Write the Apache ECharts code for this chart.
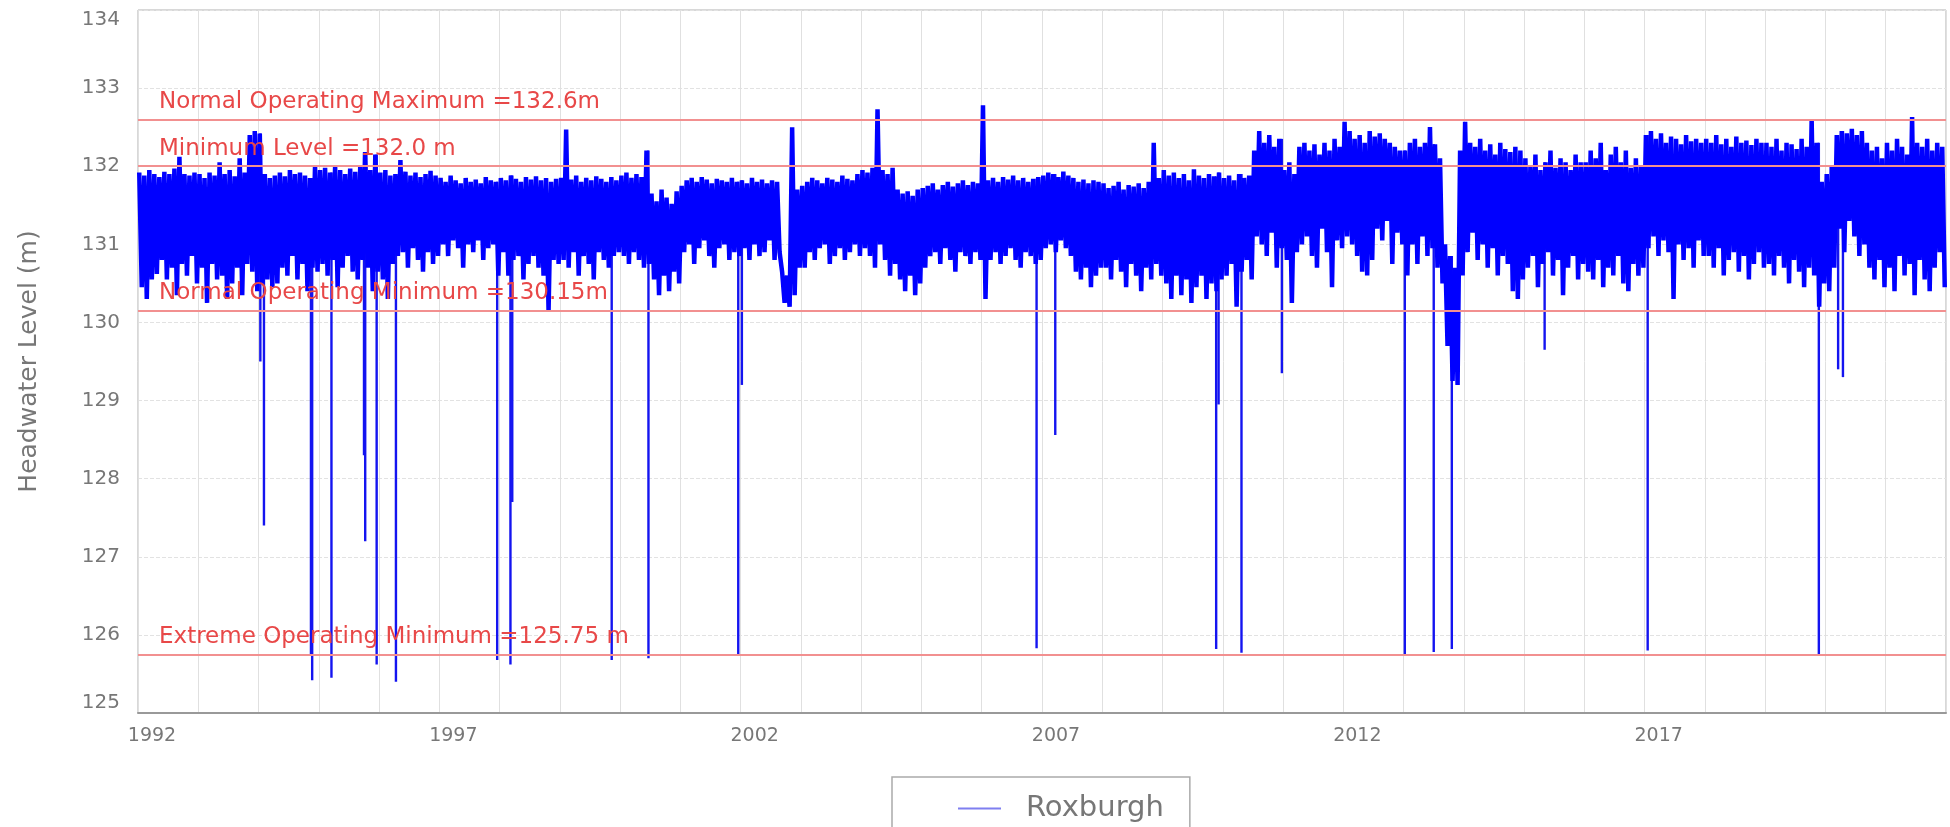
<!DOCTYPE html>
<html>
<head>
<meta charset="utf-8">
<title>Roxburgh headwater level</title>
<script src="https://cdn.jsdelivr.net/npm/echarts@6.0.0/dist/echarts.min.js"></script>
<style>
html, body { margin: 0; padding: 0; background: #fff; }
#main { width: 1950px; height: 827px; }
</style>
</head>
<body>
<div id="main"></div>
<script>
var firstYear = 1992;
var lastYear = 2022;
var yearStep = 5;
var seriesName = 'Roxburgh';

// monthly high readings (m), one row per year, Jan..Dec
var monthHigh = [
  [131.92, 131.88, 131.95, 131.90, 131.86, 131.93, 131.90, 131.97, 132.12, 131.90, 131.88, 131.92],
  [131.90, 131.85, 131.92, 131.88, 132.05, 131.90, 131.95, 131.87, 132.10, 131.92, 132.40, 132.45],
  [132.42, 131.90, 131.85, 131.88, 131.92, 131.87, 131.95, 131.90, 131.92, 131.88, 131.85, 132.00],
  [131.95, 131.98, 131.92, 132.00, 131.95, 131.90, 131.97, 131.93, 132.00, 132.18, 131.95, 132.15],
  [131.92, 131.95, 131.88, 131.90, 132.08, 131.93, 131.88, 131.92, 131.86, 131.90, 131.94, 131.88],
  [131.85, 131.80, 131.88, 131.82, 131.78, 131.85, 131.80, 131.83, 131.78, 131.86, 131.82, 131.80],
  [131.85, 131.82, 131.88, 131.84, 131.80, 131.86, 131.83, 131.87, 131.82, 131.85, 131.80, 131.84],
  [131.85, 132.47, 131.83, 131.88, 131.80, 131.85, 131.82, 131.87, 131.84, 131.80, 131.86, 131.82],
  [131.88, 131.92, 131.85, 131.90, 131.86, 132.20, 131.65, 131.55, 131.70, 131.60, 131.52, 131.68],
  [131.75, 131.82, 131.85, 131.80, 131.86, 131.83, 131.78, 131.84, 131.82, 131.80, 131.85, 131.80],
  [131.82, 131.78, 131.85, 131.80, 131.83, 131.78, 131.82, 131.80, 130.65, 130.60, 132.50, 131.70],
  [131.75, 131.80, 131.85, 131.82, 131.78, 131.85, 131.83, 131.80, 131.88, 131.84, 131.82, 131.90],
  [131.95, 131.92, 131.98, 132.73, 131.95, 131.90, 131.98, 131.70, 131.65, 131.68, 131.62, 131.70],
  [131.72, 131.75, 131.78, 131.70, 131.76, 131.80, 131.74, 131.78, 131.82, 131.76, 131.80, 131.78],
  [132.78, 131.82, 131.85, 131.80, 131.86, 131.83, 131.88, 131.82, 131.85, 131.80, 131.84, 131.86],
  [131.88, 131.92, 131.90, 131.86, 131.93, 131.88, 131.85, 131.80, 131.83, 131.78, 131.82, 131.80],
  [131.78, 131.72, 131.75, 131.80, 131.70, 131.76, 131.74, 131.78, 131.72, 131.80, 132.30, 131.85],
  [131.95, 131.88, 131.92, 131.85, 131.90, 131.82, 131.96, 131.88, 131.85, 131.90, 131.87, 131.92],
  [131.85, 131.88, 131.82, 131.90, 131.85, 131.88, 132.20, 132.45, 132.30, 132.40, 132.25, 132.35],
  [131.95, 132.05, 131.90, 132.25, 132.30, 132.20, 132.28, 132.15, 132.30, 132.20, 132.35, 132.25],
  [132.57, 132.45, 132.35, 132.40, 132.30, 132.45, 132.38, 132.42, 132.35, 132.30, 132.25, 132.20],
  [132.20, 132.30, 132.35, 132.25, 132.30, 132.50, 132.28, 132.10, 131.00, 130.85, 130.70, 132.20],
  [132.57, 132.30, 132.25, 132.35, 132.20, 132.28, 132.15, 132.30, 132.22, 132.18, 132.25, 132.20],
  [132.10, 132.00, 132.15, 131.95, 132.05, 132.20, 131.98, 132.10, 132.05, 131.95, 132.15, 132.05],
  [132.05, 132.20, 132.10, 132.30, 131.95, 132.15, 132.25, 132.05, 132.20, 131.98, 132.10, 132.00],
  [132.40, 132.45, 132.35, 132.42, 132.30, 132.38, 132.35, 132.28, 132.40, 132.32, 132.35, 132.30],
  [132.35, 132.30, 132.40, 132.28, 132.35, 132.25, 132.38, 132.30, 132.33, 132.27, 132.35, 132.30],
  [132.30, 132.25, 132.35, 132.20, 132.30, 132.28, 132.22, 132.35, 132.25, 132.60, 132.30, 131.80],
  [131.90, 132.00, 132.40, 132.45, 132.42, 132.48, 132.40, 132.45, 132.30, 132.20, 132.25, 132.10],
  [132.30, 132.20, 132.35, 132.25, 132.15, 132.63, 132.30, 132.25, 132.35, 132.20, 132.30, 132.25]
];

// monthly low readings (m), one row per year, Jan..Dec
var monthLow = [
  [130.45, 130.30, 130.55, 130.62, 130.80, 130.55, 130.70, 130.35, 130.75, 130.60, 130.85, 130.50],
  [130.70, 130.25, 130.75, 130.55, 130.60, 130.30, 130.50, 130.70, 130.35, 130.75, 130.65, 130.40],
  [130.50, 130.55, 130.45, 130.50, 130.70, 130.60, 130.85, 130.55, 130.75, 130.40, 130.70, 130.65],
  [130.75, 130.60, 130.80, 130.45, 130.70, 130.85, 130.65, 130.55, 130.80, 130.70, 130.40, 130.65],
  [130.55, 130.30, 130.75, 130.85, 130.90, 130.70, 130.95, 130.80, 130.65, 130.90, 130.75, 130.85],
  [131.00, 130.85, 131.05, 130.95, 130.70, 131.00, 130.90, 131.05, 130.80, 130.95, 131.00, 130.60],
  [130.90, 130.60, 130.80, 130.85, 130.55, 130.75, 130.85, 130.70, 130.60, 130.15, 130.80, 130.75],
  [130.80, 130.70, 130.90, 130.60, 130.85, 130.75, 130.55, 130.90, 130.80, 130.70, 130.85, 130.90],
  [130.85, 130.75, 130.90, 130.80, 130.70, 130.75, 130.55, 130.35, 130.60, 130.40, 130.65, 130.50],
  [130.90, 131.00, 130.75, 130.95, 131.05, 130.85, 130.70, 130.95, 131.00, 130.80, 130.90, 130.85],
  [130.95, 130.80, 131.00, 130.85, 130.90, 131.05, 130.80, 130.90, 130.25, 130.20, 130.35, 130.70],
  [130.70, 130.90, 130.80, 130.95, 131.00, 130.75, 130.85, 130.95, 130.80, 130.90, 131.00, 130.85],
  [130.95, 130.85, 130.70, 131.00, 130.80, 130.60, 130.75, 130.55, 130.40, 130.60, 130.35, 130.50],
  [130.70, 130.85, 130.90, 130.75, 130.95, 130.80, 130.65, 130.90, 130.85, 130.75, 130.90, 130.80],
  [130.30, 130.80, 130.90, 130.75, 130.85, 130.95, 130.80, 130.70, 130.90, 130.85, 130.75, 130.80],
  [130.95, 131.00, 130.90, 131.05, 130.95, 130.85, 130.65, 130.55, 130.70, 130.45, 130.60, 130.70],
  [130.70, 130.55, 130.80, 130.65, 130.45, 130.75, 130.60, 130.40, 130.70, 130.55, 130.75, 130.60],
  [130.50, 130.30, 130.60, 130.35, 130.55, 130.25, 130.45, 130.60, 130.30, 130.50, 130.40, 130.55],
  [130.60, 130.75, 130.20, 130.65, 130.80, 130.55, 131.10, 131.00, 130.85, 131.15, 130.70, 130.95],
  [130.80, 130.25, 130.90, 131.00, 131.10, 130.85, 130.70, 131.20, 130.90, 130.45, 131.05, 130.95],
  [131.10, 131.00, 130.85, 130.65, 130.60, 130.80, 131.20, 131.05, 131.30, 130.75, 131.15, 131.00],
  [130.60, 131.00, 130.75, 131.10, 130.85, 130.95, 130.70, 130.50, 129.70, 129.25, 129.20, 130.60],
  [130.90, 131.15, 130.80, 131.00, 130.70, 130.95, 130.60, 130.85, 130.75, 130.40, 130.30, 130.55],
  [130.70, 130.85, 130.45, 130.75, 130.90, 130.60, 130.80, 130.35, 130.70, 130.85, 130.55, 130.75],
  [130.65, 130.55, 130.80, 130.45, 130.70, 130.60, 130.85, 130.50, 130.40, 130.75, 130.60, 130.70],
  [130.95, 131.10, 130.85, 131.05, 130.90, 130.30, 131.00, 130.80, 130.95, 130.70, 131.05, 130.85],
  [130.85, 130.70, 130.95, 130.60, 130.80, 130.90, 130.65, 130.85, 130.55, 130.75, 130.90, 130.70],
  [130.75, 130.60, 130.85, 130.70, 130.50, 130.80, 130.65, 130.45, 130.70, 130.60, 130.20, 130.50],
  [130.40, 130.70, 131.20, 130.90, 131.30, 131.10, 130.85, 131.00, 130.70, 130.55, 130.80, 130.45],
  [130.70, 130.40, 130.85, 130.60, 130.75, 130.35, 130.80, 130.55, 130.40, 130.70, 130.90, 130.45]
];

// short drawdown events: time (decimal year) and lowest level (m)
var dipYears  = [1994.03, 1994.09, 1994.87, 1994.89, 1995.21, 1995.75, 1995.77, 1995.96, 1996.28, 1997.96,
                 1998.18, 1998.21, 1999.86, 2000.47, 2001.96, 2002.02, 2006.91, 2007.22, 2009.89, 2009.93,
                 2010.31, 2010.98, 2013.02, 2013.50, 2013.80, 2015.34, 2017.05, 2019.89, 2020.21, 2020.29];
var dipLevels = [129.50, 127.40, 125.75, 125.42, 125.45, 128.30, 127.20, 125.62, 125.40, 125.68,
                 125.62, 127.70, 125.68, 125.70, 125.75, 129.20, 125.83, 128.56, 125.82, 128.95,
                 125.77, 129.35, 125.75, 125.78, 125.82, 129.65, 125.80, 125.75, 129.40, 129.30];

// operating limits
var refLevels = [132.6, 132.0, 130.15, 125.75];
var refLabels = ['Normal Operating Maximum =132.6m', 'Minimum Level =132.0 m',
                 'Normal Operating Minimum =130.15m', 'Extreme Operating Minimum =125.75 m'];

var levelMin = 125, levelMax = 134;

// zigzag through the monthly highs and lows
var points = [];
for (var i = 0; i < monthHigh.length; i++) {
  for (var m = 0; m < 12; m++) {
    var t = firstYear + i + m / 12;
    points.push([t + 0.25 / 12, monthHigh[i][m]]);
    points.push([t + 0.75 / 12, monthLow[i][m]]);
  }
}

// each dip hangs from that month's high
var dips = dipYears.map(function (t, k) {
  var yi = Math.floor(t) - firstYear;
  var mi = Math.min(11, Math.floor((t - Math.floor(t)) * 12));
  return [t, dipLevels[k], monthHigh[yi][mi]];
});

var refData = refLevels.map(function (v, k) {
  return { yAxis: v, label: { formatter: refLabels[k] } };
});

var myChart = echarts.init(document.getElementById('main'));
var option = {
  animation: false,
  textStyle: { fontFamily: 'DejaVu Sans' },
  grid: {
    left: 138, right: 4, top: 10, bottom: 114,
    containLabel: false, outerBoundsMode: 'none',
    show: true, borderColor: '#b0b0b0', borderWidth: 1
  },
  legend: {
    data: [seriesName],
    left: 892, top: 777,
    padding: [17, 26, 17, 66],
    borderColor: '#aaaaaa', borderWidth: 1.5,
    icon: 'rect',
    itemWidth: 43, itemHeight: 2,
    itemStyle: { color: '#7f7ff0' },
    textStyle: { fontSize: 29, color: '#777777', padding: [0, 0, 0, 20] }
  },
  xAxis: {
    type: 'value',
    min: firstYear, max: lastYear, interval: yearStep,
    axisLine: { show: true, lineStyle: { color: '#999999', width: 2 } },
    axisTick: { show: false },
    axisLabel: {
      fontSize: 19, color: '#777777', margin: 14,
      padding: [0, 0, 0, 28],
      showMaxLabel: false,
      formatter: function (v) { return String(v); }
    },
    splitLine: { show: true, lineStyle: { color: '#e0e0e0', width: 1 } },
    minorTick: { show: false, splitNumber: 5 },
    minorSplitLine: { show: true, lineStyle: { color: '#e0e0e0', width: 1 } }
  },
  yAxis: {
    type: 'value',
    min: levelMin, max: levelMax, interval: 1,
    name: 'Headwater Level (m)',
    nameLocation: 'middle', nameGap: 96,
    nameTextStyle: { fontSize: 25, color: '#777777' },
    axisLine: { show: false },
    axisTick: { show: false },
    axisLabel: {
      fontSize: 20, color: '#777777', margin: 18,
      verticalAlignMaxLabel: 'top', verticalAlignMinLabel: 'bottom'
    },
    splitLine: { show: true, lineStyle: { color: '#e2e2e2', type: 'dashed', width: 1 } }
  },
  series: [
    {
      name: 'limits',
      type: 'line',
      data: [],
      z: 1,
      silent: true,
      markLine: {
        silent: true,
        symbol: 'none',
        animation: false,
        lineStyle: { color: '#f29090', width: 2, type: 'solid' },
        label: {
          position: 'insideStartTop',
          distance: [21, 6],
          fontSize: 23,
          color: '#e84848'
        },
        data: refData
      }
    },
    {
      name: seriesName,
      type: 'line',
      data: points,
      z: 3,
      symbol: 'none',
      showSymbol: false,
      lineStyle: { color: '#0000ff', width: 4.5 },
      itemStyle: { color: '#0000ff' }
    },
    {
      name: 'dips',
      type: 'custom',
      z: 3,
      silent: true,
      clip: true,
      data: dips,
      encode: { x: 0, y: 1 },
      renderItem: function (params, api) {
        var bottom = api.coord([api.value(0), api.value(1)]);
        var top = api.coord([api.value(0), api.value(2)]);
        return {
          type: 'line',
          shape: { x1: top[0], y1: top[1], x2: bottom[0], y2: bottom[1] },
          style: { stroke: '#1414f0', lineWidth: 2.4 }
        };
      }
    }
  ]
};
myChart.setOption(option);
</script>
</body>
</html>
